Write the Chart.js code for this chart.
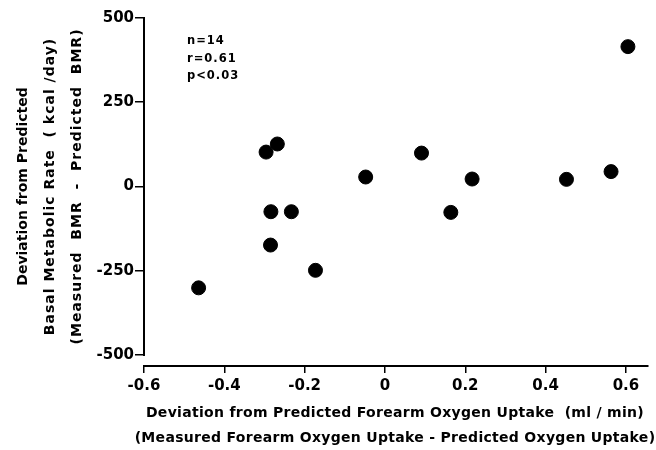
<!DOCTYPE html>
<html><head><meta charset="utf-8">
<script src="https://cdn.jsdelivr.net/npm/chart.js@4.4.1/dist/chart.umd.min.js"></script>
<style>html,body{margin:0;padding:0;background:#fff}</style>
</head><body>
<canvas id="c" width="656" height="450"></canvas>
<script>
// Data
const xValues = [-0.464, -0.296, -0.268, -0.284, -0.285, -0.233, -0.173, -0.048, 0.091, 0.164, 0.217, 0.452, 0.563, 0.605];
const yValues = [-301, 102, 126, -75, -174, -75, -249, 28, 99, -77, 22, 21, 44, 415];
const xTicks = [-0.6, -0.4, -0.2, 0, 0.2, 0.4, 0.6];
const yTicks = [-500, -250, 0, 250, 500];
const xTitleLines = ["Deviation from Predicted Forearm Oxygen Uptake  (ml / min)",
                     "(Measured Forearm Oxygen Uptake - Predicted Oxygen Uptake)"];
const yTitleLines = ["Deviation from Predicted",
                     "Basal Metabolic Rate  ( kcal /day)",
                     "(Measured  BMR  -  Predicted  BMR)"];
const statsLines = ["n=14", "r=0.61", "p<0.03"];

const FONT = "'DejaVu Sans', 'Liberation Sans', sans-serif";

const points = xValues.map((x, i) => ({x: x, y: yValues[i]}));

const decor = {
  id: 'decor',
  afterDraw(chart) {
    const ctx = chart.ctx;
    const ys = chart.scales.y;
    const a = chart.chartArea;
    ctx.save();
    // detached y-axis line spanning the tick range
    ctx.strokeStyle = '#000';
    ctx.lineWidth = 2;
    ctx.beginPath();
    ctx.moveTo(a.left, ys.getPixelForValue(yTicks[yTicks.length - 1]) - 1);
    ctx.lineTo(a.left, ys.getPixelForValue(yTicks[0]) + 1);
    ctx.stroke();

    ctx.fillStyle = '#000';
    // x title
    ctx.font = "bold 14px " + FONT;
    ctx.letterSpacing = "0.3px";
    ctx.textAlign = 'center';
    ctx.textBaseline = 'middle';
    const cx = 395;
    ctx.fillText(xTitleLines[0], cx, 413);
    ctx.fillText(xTitleLines[1], cx, 438);

    // y title (rotated)
    const cy = (ys.getPixelForValue(500) + ys.getPixelForValue(-500)) / 2;
    const yx = [23, 50, 77];
    const ls = ["0px", "1px", "1px"];
    yTitleLines.forEach((t, i) => {
      ctx.save();
      ctx.letterSpacing = ls[i];
      ctx.translate(yx[i], cy);
      ctx.rotate(-Math.PI / 2);
      ctx.fillText(t, 0, 0);
      ctx.restore();
    });

    // stats annotation
    ctx.font = "bold 11.5px " + FONT;
    ctx.letterSpacing = "1px";
    ctx.textAlign = 'left';
    ctx.textBaseline = 'alphabetic';
    statsLines.forEach((t, i) => {
      ctx.fillText(t, a.left + 43, a.top + 26 + i * 17.5);
    });
    ctx.restore();
  }
};

new Chart(document.getElementById('c'), {
  type: 'scatter',
  data: {
    datasets: [{
      data: points,
      backgroundColor: '#000',
      borderColor: '#000',
      pointRadius: 7,
      pointHoverRadius: 7
    }]
  },
  options: {
    responsive: false,
    animation: false,
    devicePixelRatio: 1,
    layout: {padding: {left: 84, top: 18, right: 4, bottom: 0}},
    plugins: {legend: {display: false}, tooltip: {enabled: false}},
    scales: {
      x: {
        type: 'linear',
        min: -0.6,
        max: 0.655,
        afterBuildTicks: s => { s.ticks = xTicks.map(v => ({value: v})); },
        afterFit: s => { s.height = 84; },
        grid: {drawOnChartArea: false, drawTicks: true, tickLength: 7, color: '#000', lineWidth: 1.5},
        border: {display: true, color: '#000', width: 2},
        ticks: {
          color: '#000', padding: 4, maxRotation: 0, autoSkip: false,
          font: {family: FONT, weight: 'bold', size: 15},
          callback: v => (v === 0 ? '0' : Number(v).toFixed(1))
        }
      },
      y: {
        type: 'linear',
        min: -533,
        max: 500,
        afterBuildTicks: s => { s.ticks = yTicks.map(v => ({value: v})); },
        afterFit: s => { s.width = 60; },
        grid: {drawOnChartArea: false, drawTicks: true, tickLength: 9, color: '#000', lineWidth: 1.5},
        border: {display: false},
        ticks: {
          color: '#000', padding: 1, autoSkip: false,
          font: {family: FONT, weight: 'bold', size: 15},
          callback: v => String(v)
        }
      }
    }
  },
  plugins: [decor]
});
</script>
</body></html>
